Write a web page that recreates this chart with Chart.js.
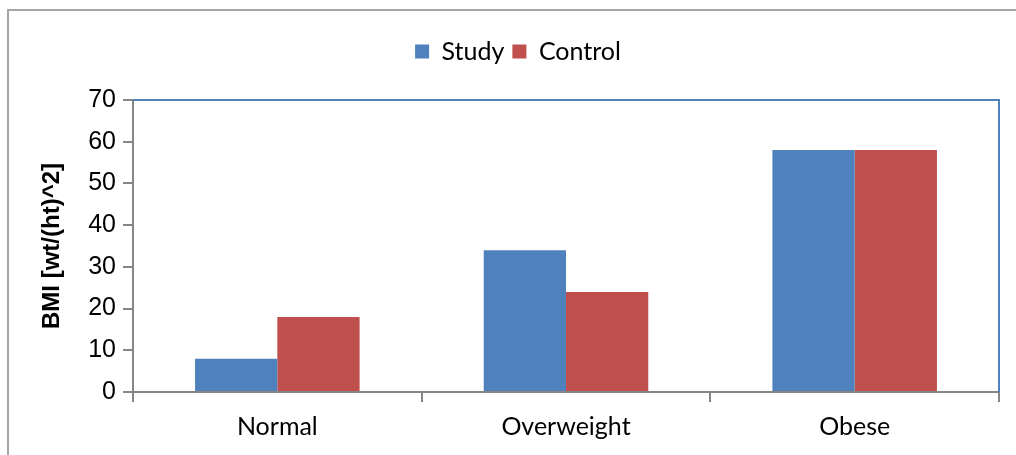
<!DOCTYPE html>
<html>
<head>
<meta charset="utf-8">
<script src="https://cdn.jsdelivr.net/npm/chart.js@4/dist/chart.umd.min.js"></script>
<style>
  html, body { margin: 0; padding: 0; background: #fff; }
  #wrap { width: 1016px; height: 455px; position: relative; }
</style>
</head>
<body>
<div id="wrap"><canvas id="bmiChart"></canvas></div>
<script>
const categories = ['Normal', 'Overweight', 'Obese'];
const studyValues = [8, 34, 58];
const controlValues = [18, 24, 58];
const yTicks = [0, 10, 20, 30, 40, 50, 60, 70];

const BLUE = '#4F81BD';
const RED = '#C0504D';
const AXIS = '#868686';

// outer frame + blue top/right edge of the plot area
const frame = {
  id: 'frame',
  beforeInit(chart) {
    // extra gap under the legend
    const lg = chart.legend;
    if (lg) {
      const fit = lg.fit;
      lg.fit = function() { fit.call(this); this.height += 26; };
    }
  },
  afterLayout(chart) {
    // legend sits a bit right of the canvas centre
    if (chart.legend) chart.legend.left += 37;
  },
  beforeDraw(chart) {
    const ctx = chart.ctx;
    ctx.save();
    ctx.strokeStyle = '#A6A6A6';
    ctx.lineWidth = 2;
    ctx.beginPath();
    ctx.moveTo(8, 455);
    ctx.lineTo(8, 10);
    ctx.lineTo(1016, 10);
    ctx.stroke();
    ctx.restore();
  },
  afterDatasetsDraw(chart) {
    const a = chart.chartArea;
    const ctx = chart.ctx;
    ctx.save();
    ctx.strokeStyle = BLUE;
    ctx.lineWidth = 2;
    ctx.beginPath();
    ctx.moveTo(a.left, a.top);
    ctx.lineTo(a.right, a.top);
    ctx.lineTo(a.right, a.bottom);
    ctx.stroke();
    ctx.restore();
  }
};

new Chart(document.getElementById('bmiChart'), {
  type: 'bar',
  data: {
    labels: categories,
    datasets: [
      { label: 'Study', data: studyValues, backgroundColor: BLUE },
      { label: 'Control', data: controlValues, backgroundColor: RED }
    ]
  },
  options: {
    responsive: true,
    maintainAspectRatio: false,
    animation: false,
    layout: { padding: { left: 0, right: 17, top: 31, bottom: 0 } },
    datasets: { bar: { categoryPercentage: 0.57, barPercentage: 1 } },
    plugins: {
      legend: {
        position: 'top',
        labels: {
          font: { family: 'Lato', size: 25 },
          color: '#000',
          boxWidth: 14,
          boxHeight: 14,
          padding: 8
        }
      },
      tooltip: { enabled: false }
    },
    scales: {
      x: {
        grid: { offset: true, drawOnChartArea: false, color: AXIS, tickLength: 10, lineWidth: 2 },
        border: { color: AXIS, width: 2 },
        ticks: { font: { family: 'Lato', size: 25 }, color: '#000', padding: 10 },
        afterFit(s) { s.height = 63; }
      },
      y: {
        min: 0,
        max: 70,
        afterBuildTicks(s) { s.ticks = yTicks.map(v => ({ value: v })); },
        grid: { drawOnChartArea: false, color: AXIS, tickLength: 10, lineWidth: 2 },
        border: { color: AXIS, width: 2 },
        ticks: { font: { family: 'Liberation Sans', size: 25 }, color: '#000', padding: 7 },
        title: {
          display: true,
          text: 'BMI [wt/(ht)^2]',
          font: { family: 'Liberation Sans', size: 24, weight: 'bold' },
          color: '#000',
          padding: { top: 38, bottom: 0 }
        },
        afterFit(s) { s.width = 133; }
      }
    }
  },
  plugins: [frame]
});
</script>
</body>
</html>
